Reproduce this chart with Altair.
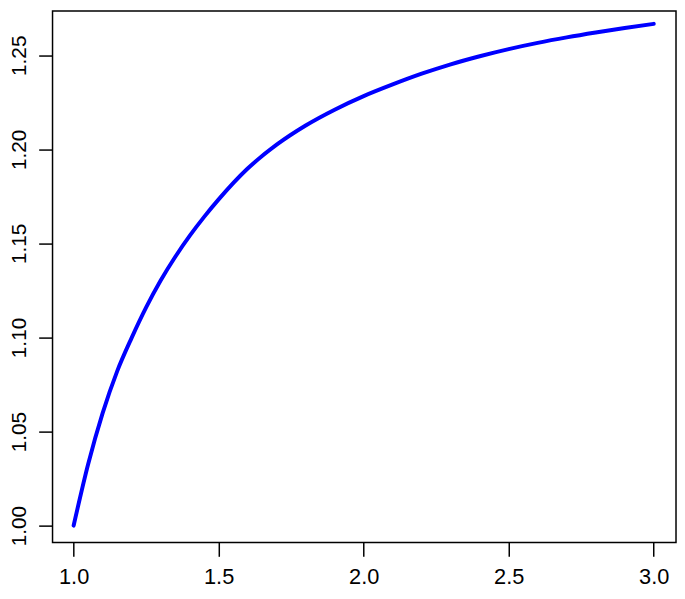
import altair as alt
import pandas as pd

# Values
x_vals = [1.00, 1.05, 1.10, 1.15, 1.20, 1.25, 1.30, 1.35, 1.40, 1.45, 1.50,
          1.60, 1.70, 1.80, 1.90, 2.00, 2.10, 2.20, 2.30, 2.40, 2.50,
          2.60, 2.70, 2.80, 2.90, 3.00]
y_vals = [1.0000, 1.0326, 1.0598, 1.0820, 1.0998, 1.1160, 1.1303, 1.1428, 1.1540, 1.1641, 1.1734,
          1.1898, 1.2025, 1.2127, 1.2211, 1.2283, 1.2345, 1.2402, 1.2452, 1.2495, 1.2533,
          1.2566, 1.2595, 1.2621, 1.2645, 1.2667]
x_ticks = [1.0, 1.5, 2.0, 2.5, 3.0]
y_ticks = [1.00, 1.05, 1.10, 1.15, 1.20, 1.25]

df = pd.DataFrame({"x": x_vals, "y": y_vals})

FONT = "Liberation Sans"

chart = alt.Chart(df).mark_line(
    color="#0000FF", strokeWidth=4, strokeCap="round", strokeJoin="round",
    interpolate="monotone", clip=True
).encode(
    x=alt.X("x:Q",
            scale=alt.Scale(domain=[0.9273, 3.0768], nice=False, zero=False),
            axis=alt.Axis(values=x_ticks, format=".1f", title=None, grid=False,
                          domain=False, tickSize=14, tickWidth=1.5, tickColor="black",
                          labelFont=FONT, labelFontSize=22, labelColor="black",
                          labelPadding=27, labelBaseline="alphabetic",
                          labelFlush=False, labelOverlap=False)),
    y=alt.Y("y:Q",
            scale=alt.Scale(domain=[0.99105, 1.27353], nice=False, zero=False),
            axis=alt.Axis(values=y_ticks, format=".2f", title=None, grid=False,
                          domain=False, tickSize=14, tickWidth=1.5, tickColor="black",
                          labelFont=FONT, labelFontSize=21, labelColor="black",
                          labelAngle=270, labelAlign="center", labelBaseline="alphabetic",
                          labelPadding=13, labelFlush=False, labelOverlap=False)),
).properties(
    width=630,
    height=537,
    autosize=alt.AutoSizeParams(type="none"),
    padding={"left": 45, "top": 0, "right": 1, "bottom": 46},
).configure(
    background="white"
).configure_view(
    stroke="black", strokeWidth=1.5, fill="white"
)

chart.save("out.html", embed_options={"renderer": "svg", "actions": False})
